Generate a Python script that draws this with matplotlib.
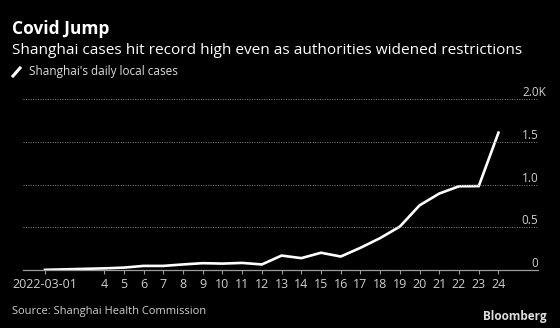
import matplotlib.pyplot as plt
import matplotlib.dates as mdates
import numpy as np
from matplotlib.lines import Line2D

plt.rcParams['font.family'] = ['Open Sans', 'DejaVu Sans']

# 数据：上海每日本土病例
dates = ['2022-03-01', '2022-03-04', '2022-03-05', '2022-03-06', '2022-03-07',
         '2022-03-08', '2022-03-09', '2022-03-10', '2022-03-11', '2022-03-12',
         '2022-03-13', '2022-03-14', '2022-03-15', '2022-03-16', '2022-03-17',
         '2022-03-18', '2022-03-19', '2022-03-20', '2022-03-21', '2022-03-22',
         '2022-03-23', '2022-03-24']
cases = [2, 19, 28, 48, 48, 65, 80, 75, 83, 65, 169, 139, 202, 158, 260,
         374, 509, 758, 896, 981, 983, 1609]
x_labels = ['2022-03-01'] + [str(d) for d in range(4, 25)]
y_ticks = [0, 500, 1000, 1500, 2000]
y_labels = ['0', '0.5', '1.0', '1.5', '2.0K']

W, H = 560, 328
fig = plt.figure(figsize=(W / 100, H / 100), dpi=100, facecolor='black')
ax = fig.add_axes([22.7 / W, 1 - 270 / H, (538.3 - 22.7) / W, (270 - 99.3) / H])
ax.set_facecolor('black')

x = mdates.datestr2num(dates)
ax.plot(x, cases, color='white', linewidth=1.9, solid_joinstyle='miter')

ax.set_xlim(x[0] - 1.13, x[-1] + 2.02)
ax.set_ylim(0, 2000)

# 网格线
for v in y_ticks[1:]:
    ax.axhline(v, color='#8a8a8a', linewidth=0.7, linestyle=(0, (1, 1.5)))
for s in ['top', 'right', 'left']:
    ax.spines[s].set_visible(False)
ax.spines['bottom'].set_color('#9a9a9a')
ax.spines['bottom'].set_linewidth(0.9)

ax.set_xticks(x)
ax.set_xticklabels(x_labels, fontsize=9, color='#cfcfcf')
ax.tick_params(axis='x', direction='out', length=3, width=0.8, color='#9a9a9a', pad=3)
ax.set_yticks([])

# y轴标签放在网格线上方
for v, lab in zip(y_ticks, y_labels):
    xr = 1.0 if not lab.endswith('K') else 1.0 + 7.5 / (538.3 - 22.7)
    ax.text(xr, v, lab, transform=ax.get_yaxis_transform(), ha='right', va='bottom',
            fontsize=8.5, color='#cfcfcf')

# 标题与说明
fig.text(12 / W, 1 - 28.5 / H, 'Covid Jump', fontsize=12.5, fontweight='bold',
         color='white', va='center', ha='left')
fig.text(12 / W, 1 - 50 / H,
         'Shanghai cases hit record high even as authorities widened restrictions',
         fontsize=11.1, color='white', va='center', ha='left')
fig.add_artist(Line2D([13 / W, 20 / W], [1 - 76 / H, 1 - 68 / H], color='white',
                      linewidth=2.2, transform=fig.transFigure))
fig.text(29 / W, 1 - 71.5 / H, "Shanghai's daily local cases", fontsize=8.5,
         color='#dddddd', va='center', ha='left')
fig.text(12 / W, 1 - 311.5 / H, 'Source: Shanghai Health Commission', fontsize=8,
         color='#cfcfcf', va='center', ha='left')
fig.text(547 / W, 1 - 316.5 / H, 'Bloomberg', fontsize=8.5, fontweight='bold',
         color='#dddddd', va='center', ha='right')

fig.savefig('out.png', dpi=100, facecolor='black')
